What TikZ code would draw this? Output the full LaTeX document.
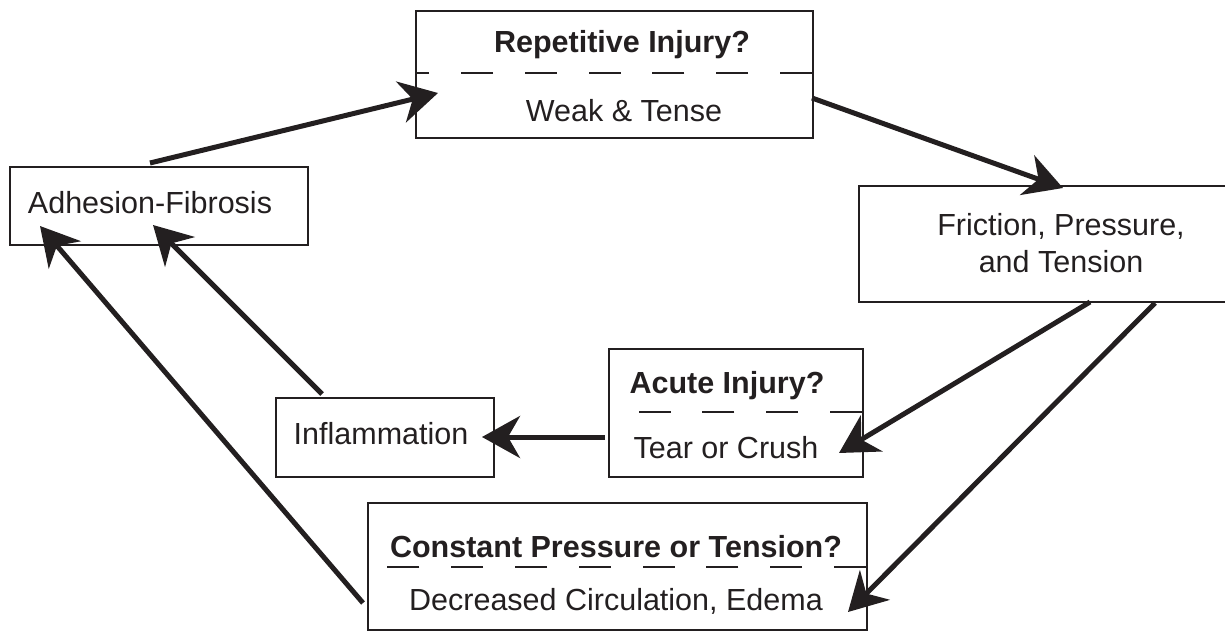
\documentclass[tikz,border=0pt]{standalone}
\usepackage{fontspec}
\setmainfont{Liberation Sans}
\usetikzlibrary{arrows.meta}
\definecolor{ink}{RGB}{35,31,32}
\begin{document}
\begin{tikzpicture}[x=1pt,y=-1pt,
  box/.style={draw=ink, line width=2.3pt, inner sep=0pt, anchor=north west},
  lbl/.style={anchor=base, inner sep=0pt, text=ink, font=\fontsize{30.5}{36}\selectfont},
  blbl/.style={anchor=base, inner sep=0pt, text=ink, font=\fontsize{30.5}{36}\selectfont\bfseries},
  sep/.style={draw=ink, line width=2.3pt, dash pattern=on 32pt off 31.8pt},
  arr/.style={draw=ink, line width=5pt, -{Stealth[length=38pt,width=42pt,inset=12pt]}}]
\useasboundingbox (0,0) rectangle (1225,631);
\clip (0,0) rectangle (1225,631);
% boxes
\node[box, minimum width=397pt, minimum height=127pt] (rep) at (415,10) {};
\node[box, minimum width=298pt, minimum height=78pt] (adh) at (9,166) {};
\node[box, minimum width=406pt, minimum height=116pt] (fric) at (858,185) {};
\node[box, minimum width=254pt, minimum height=128pt] (acute) at (608,348) {};
\node[box, minimum width=218pt, minimum height=79pt] (infl) at (275,397) {};
\node[box, minimum width=499pt, minimum height=127pt] (const) at (367,502) {};
% separators
\draw[sep] (812,73) -- (415,73);
\draw[sep] (862,412) -- (608,412);
\draw[sep] (866,567) -- (367,567);
% texts
\node[blbl] (repq) at (622,53) {Repetitive Injury?};
\node[lbl] (rept) at (624,122) {Weak \& Tense};
\node[lbl] (adht) at (150,213) {Adhesion-Fibrosis};
\node[lbl] (fric1) at (1061,235) {Friction, Pressure,};
\node[lbl] (fric2) at (1061,272) {and Tension};
\node[blbl] (acuteq) at (727,393) {Acute Injury?};
\node[lbl] (acutet) at (726,458) {Tear or Crush};
\node[lbl] (inflt) at (381,444) {Inflammation};
\node[blbl] (constq) at (616,557) {Constant Pressure or Tension?};
\node[lbl] (constt) at (616,610) {Decreased Circulation, Edema};
% connector end points
\coordinate (a1s) at (150,163);
\coordinate (a1e) at (438,93);
\coordinate (a2s) at (812,98);
\coordinate (a2e) at (1063,188);
\coordinate (a3s) at (1090,302);
\coordinate (a3e) at (839,453);
\coordinate (a4s) at (1155,303);
\coordinate (a4e) at (848,612);
\coordinate (a5s) at (605,437);
\coordinate (a5e) at (482,437);
\coordinate (a6s) at (322,394);
\coordinate (a6e) at (153,225);
\coordinate (a7s) at (363,603);
\coordinate (a7e) at (40,226);
% connectors
\draw[arr] (a1s) -- (a1e);
\draw[arr] (a2s) -- (a2e);
\draw[arr] (a3s) -- (a3e);
\draw[arr] (a4s) -- (a4e);
\draw[arr] (a5s) -- (a5e);
\draw[arr] (a6s) -- (a6e);
\draw[arr] (a7s) -- (a7e);
\end{tikzpicture}
\end{document}
